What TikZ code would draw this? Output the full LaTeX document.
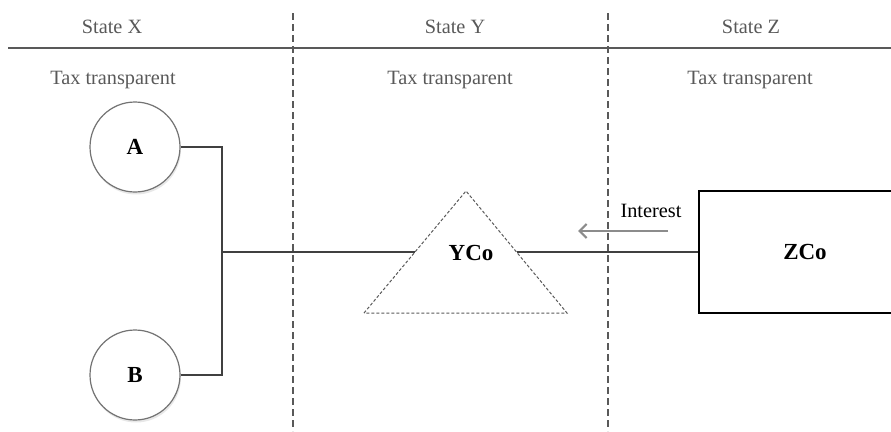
\documentclass[tikz,border=0pt]{standalone}
\usepackage{fontspec}
\setmainfont{Liberation Serif}
\usetikzlibrary{arrows.meta,shadows,calc}

\begin{document}
\begin{tikzpicture}[
        x=1pt, y=-1pt,
        every node/.style={font=\fontsize{20.3}{23}\selectfont},
        heading/.style={text=black!65},
        owner/.style={circle, draw=black!55, fill=white, line width=1.2pt, minimum size=90pt, inner sep=0pt,
            font=\fontsize{23}{26}\selectfont\bfseries,
            drop shadow={opacity=0.18, shadow xshift=1pt, shadow yshift=-2.5pt}},
        company/.style={draw, line width=1.3pt, minimum width=212pt, minimum height=122pt,
            font=\fontsize{23}{26}\selectfont\bfseries},
        hybrid/.style={draw=black!65, dash pattern=on 3pt off 2pt, line width=1pt},
        border/.style={draw=black!65, dash pattern=on 7pt off 4pt, line width=1.3pt},
        link/.style={draw=black!75, line width=1.2pt},
        flow/.style={draw=black!45, line width=2.2pt, -{Straight Barb[length=7pt,width=14pt]}}
    ]
    \useasboundingbox (0,0) rectangle (891,431);
    \clip (0,0) rectangle (891,431);

    % states and their borders
    \draw[draw=black!65, line width=1.5pt] (8,48) -- (891,48);
    \draw[border] (293,13) -- (293,431);
    \draw[border] (608,13) -- (608,431);
    \node[heading] (sx) at (112,27) {State X};
    \node[heading] (sy) at (455,27) {State Y};
    \node[heading] (sz) at (751,27) {State Z};
    \node[heading] (tx) at (113,80) {Tax transparent};
    \node[heading] (ty) at (450,80) {Tax transparent};
    \node[heading] (tz) at (750,80) {Tax transparent};

    % partners in X
    \node[owner] (a) at (135,147) {A};
    \node[owner] (b) at (135,375) {B};
    \coordinate (join) at (222,252);

    % YCo
    \coordinate (tl) at (364,313);
    \coordinate (tt) at (466,191);
    \coordinate (tr) at (567,313);
    \draw[hybrid] (tl) -- (tt) -- (tr) -- cycle;
    \node (yco) at (471,253) {\fontsize{23}{26}\selectfont\bfseries YCo};
    \coordinate (yl) at ($(tl)!0.5!(tt)$);
    \coordinate (yr) at ($(tr)!0.5!(tt)$);

    % ZCo
    \node[company] (zco) at (805,252) {ZCo};

    \draw[link] (a.east) -| (join);
    \draw[link] (b.east) -| (join);
    \draw[link] (join) -- (yl);
    \draw[link] (yr) -- (zco.west);

    % interest payment
    \node (int) at (651,211) {Interest};
    \coordinate (pay) at (668,231);
    \coordinate (recv) at (578,231);
    \draw[flow] (pay) -- (recv);
\end{tikzpicture}
\end{document}
